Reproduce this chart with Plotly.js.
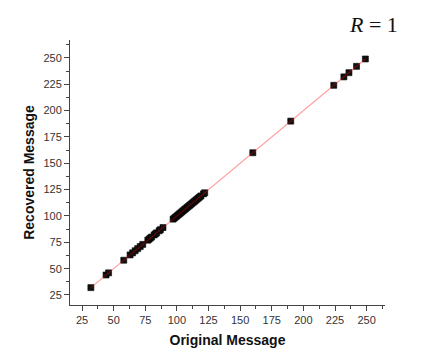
<!DOCTYPE html>
<html>
<head>
<meta charset="utf-8">
<script src="https://cdn.plot.ly/plotly-3.0.1.min.js"></script>
<style>html,body{margin:0;padding:0;background:#fff;}#chart{width:445px;height:364px;}</style>
</head>
<body>
<div id="chart"></div>
<script>
// Original message values (character codes) and recovered values
const originalValues = [32, 44, 46, 58, 63, 65, 67, 69, 71, 73, 77, 78, 79, 80, 82, 83, 84, 86, 87, 89,
  97, 98, 99, 100, 101, 102, 103, 104, 105, 106, 107, 108, 109, 110, 111, 112, 113, 114, 115, 116, 117, 118, 119, 121, 122,
  160, 190, 224, 232, 236, 242, 249];
const recoveredValues = [32, 44, 46, 58, 63, 65, 67, 69, 71, 73, 77, 78, 79, 80, 82, 83, 84, 86, 87, 89,
  97, 98, 99, 100, 101, 102, 103, 104, 105, 106, 107, 108, 109, 110, 111, 112, 113, 114, 115, 116, 117, 118, 119, 121, 122,
  160, 190, 224, 232, 236, 242, 249];
const fitX = [32, 249];
const fitY = [32, 249];
const tickValues = [25, 50, 75, 100, 125, 150, 175, 200, 225, 250];
const annotationText = '<i>R</i> = 1';

const axisCommon = {
  showgrid: false, zeroline: false, showline: true, linecolor: '#444', linewidth: 1,
  ticks: 'outside', ticklen: 5, tickwidth: 1, tickcolor: '#444',
  tickvals: tickValues, ticktext: tickValues.map(String),
  tickfont: {family: 'Liberation Sans, Arial, sans-serif', size: 11, color: '#333'},
  minor: {ticks: 'outside', ticklen: 3, tickcolor: '#444', dtick: 12.5, tick0: 12.5},
  automargin: false
};

const data = [
  {x: originalValues, y: recoveredValues, type: 'scatter', mode: 'markers',
   marker: {symbol: 'square', size: 6, color: '#111', line: {color: '#000', width: 0.6}}},
  {x: fitX, y: fitY, type: 'scatter', mode: 'lines',
   line: {color: 'rgba(255,0,0,0.38)', width: 1.2}}
];

const layout = {
  width: 445, height: 364,
  margin: {l: 70, r: 60, t: 40, b: 59},
  paper_bgcolor: '#fff', plot_bgcolor: '#fff',
  showlegend: false,
  xaxis: Object.assign({}, axisCommon, {range: [15.5, 264.5],
    title: {text: 'Original Message', standoff: 9,
      font: {family: 'Liberation Sans, Arial, sans-serif', size: 14, color: '#111', weight: 'bold'}}}),
  yaxis: Object.assign({}, axisCommon, {range: [15.5, 267],
    title: {text: 'Recovered Message', standoff: 5,
      font: {family: 'Liberation Sans, Arial, sans-serif', size: 14, color: '#111', weight: 'bold'}}}),
  annotations: [{text: annotationText, xref: 'paper', yref: 'paper', x: 0.962, y: 1.057,
    xanchor: 'center', yanchor: 'middle', showarrow: false,
    font: {family: 'Liberation Serif, Times New Roman, serif', size: 22, color: '#111'}}]
};

Plotly.newPlot('chart', data, layout, {displayModeBar: false, staticPlot: true});
</script>
</body>
</html>
